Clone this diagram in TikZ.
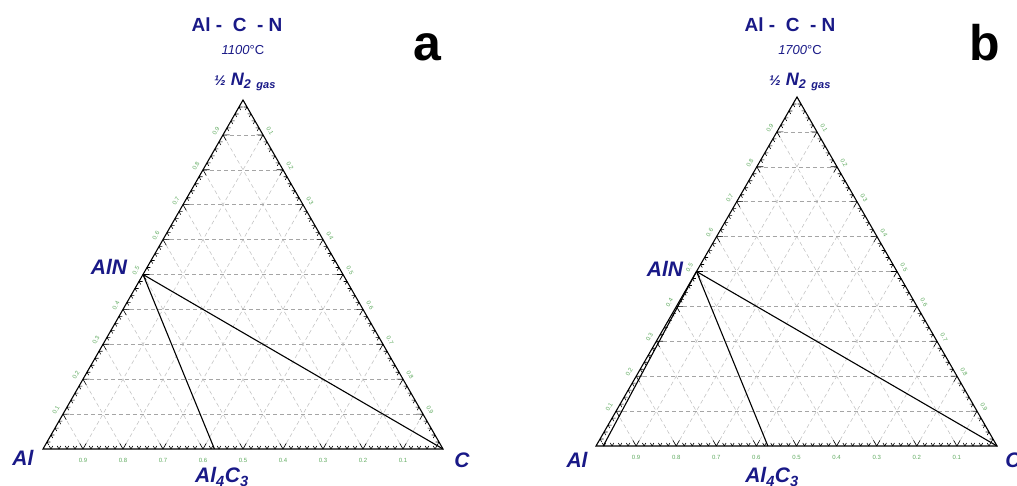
\documentclass[tikz,border=0pt]{standalone}
\usepackage{fontspec}
\setmainfont{Liberation Sans}
\usetikzlibrary{calc}
\definecolor{navy}{RGB}{25,25,135}
\definecolor{lblgreen}{RGB}{95,170,95}
\definecolor{gridgray}{RGB}{165,165,165}
\definecolor{gridlight}{RGB}{190,190,190}
\tikzset{
  gridline/.style={draw=gridgray, line width=0.55pt, dash pattern=on 4pt off 3pt},
  gridlineb/.style={draw=gridlight, line width=0.5pt, dash pattern=on 4pt off 3pt},
  tickmark/.style={draw=black, line width=0.6pt},
  edgeline/.style={draw=black, line width=1.1pt},
  conn/.style={draw=black, line width=1.1pt},
  edgelbl/.style={text=lblgreen, font=\fontsize{6}{6}\selectfont, inner sep=0pt},
  vlabel/.style={text=navy, font=\fontsize{21}{21}\selectfont\bfseries\itshape, inner sep=0pt},
  titlelbl/.style={text=navy, font=\fontsize{19}{19}\selectfont\bfseries, inner sep=0pt},
  templbl/.style={text=navy, font=\fontsize{13}{13}\selectfont, inner sep=0pt},
  gaslbl/.style={text=navy, font=\fontsize{18}{18}\selectfont\bfseries\itshape, inner sep=0pt},
  panellbl/.style={text=black, font=\fontsize{50}{50}\selectfont\bfseries, inner sep=0pt, anchor=base}
}
\newcommand{\ternpanel}[1]{%
  \foreach \i in {1,...,9}{%
    \pgfmathsetmacro{\fr}{\i/10}
    \draw[gridlineb] ($(#1C)!\fr!(#1Al)$) -- ($(#1N)!\fr!(#1Al)$);
    \draw[gridlineb] ($(#1Al)!\fr!(#1C)$) -- ($(#1N)!\fr!(#1C)$);
    \draw[gridline] ($(#1Al)!\fr!(#1N)$) -- ($(#1C)!\fr!(#1N)$);
    \node[edgelbl] (#1bot\i) at ($(#1C)!\fr!(#1Al)+(0,-11)$) {0.\i};
    \node[edgelbl, rotate=60] (#1lft\i) at ($(#1Al)!\fr!(#1N)+(-7,4)$) {0.\i};
    \node[edgelbl, rotate=-60] (#1rgt\i) at ($(#1N)!\fr!(#1C)+(7,4)$) {0.\i};
  }
  \foreach \k in {1,...,49}{%
    \pgfmathsetmacro{\fr}{\k/50}
    \pgfmathsetmacro{\len}{ifthenelse(mod(\k,5)==0,6.5,3.5)}
    \draw[tickmark] ($(#1Al)!\fr!(#1C)$) coordinate (tp) -- ++(60:\len) (tp) -- ++(120:\len);
    \draw[tickmark] ($(#1Al)!\fr!(#1N)$) coordinate (tp) -- ++(0:\len) (tp) -- ++(-60:\len);
    \draw[tickmark] ($(#1N)!\fr!(#1C)$) coordinate (tp) -- ++(180:\len) (tp) -- ++(240:\len);
  }
  \draw[edgeline] (#1Al) -- (#1C) -- (#1N) -- cycle;
}
\begin{document}
\begin{tikzpicture}[x=1pt,y=1pt]
  \useasboundingbox[fill=white] (0,0) rectangle (1017,486);
  % ---------- panel a ----------
  \coordinate (aAl) at (43,37);
  \coordinate (aC) at (443,37);
  \coordinate (aN) at (243,386);
  \ternpanel{a}
  \coordinate (aAlN) at ($(aAl)!0.5!(aN)$);
  \coordinate (aAlC) at ($(aC)!0.5714!(aAl)$);
  \draw[conn] (aAlN) -- (aAlC);
  \draw[conn] (aAlN) -- (aC);
  \node[titlelbl] (aTitle) at (237,461) {Al -\ \ C\ \ - N};
  \node[templbl] (aTemp) at (243,436) {{\itshape 1100}°C};
  \node[gaslbl] (aGas) at (245,404) {{\fontsize{14}{14}\selectfont ½} N\textsubscript{2 \,\fontsize{11}{11}\selectfont gas}};
  \node[vlabel] (aAlLbl) at (23,28) {Al};
  \node[vlabel] (aCLbl) at (462,26) {C};
  \node[vlabel] (aAlNLbl) at (109,219) {AlN};
  \node[vlabel, anchor=base] (aAlCLbl) at (222,3) {Al\textsubscript{4}C\textsubscript{3}};
  \node[panellbl] (aPanel) at (427,425) {a};
  % ---------- panel b ----------
  \coordinate (bAl) at (596,40);
  \coordinate (bC) at (997,40);
  \coordinate (bN) at (797,389);
  \ternpanel{b}
  \coordinate (bAlN) at ($(bAl)!0.5!(bN)$);
  \coordinate (bAlC) at ($(bC)!0.5714!(bAl)$);
  \coordinate (bLiq) at ($(bAl)!0.018!(bC)$);
  \draw[conn] (bAlN) -- (bAlC);
  \draw[conn] (bAlN) -- (bC);
  \draw[conn] (bAlN) -- (bLiq);
  \node[titlelbl] (bTitle) at (790,461) {Al -\ \ C\ \ - N};
  \node[templbl] (bTemp) at (800,436) {{\itshape 1700}°C};
  \node[gaslbl] (bGas) at (800,404) {{\fontsize{14}{14}\selectfont ½} N\textsubscript{2 \,\fontsize{11}{11}\selectfont gas}};
  \node[vlabel] (bAlLbl) at (577,26) {Al};
  \node[vlabel] (bCLbl) at (1013,26) {C};
  \node[vlabel] (bAlNLbl) at (665,217) {AlN};
  \node[vlabel, anchor=base] (bAlCLbl) at (772,3) {Al\textsubscript{4}C\textsubscript{3}};
  \node[panellbl] (bPanel) at (985,425) {b};
\end{tikzpicture}
\end{document}
